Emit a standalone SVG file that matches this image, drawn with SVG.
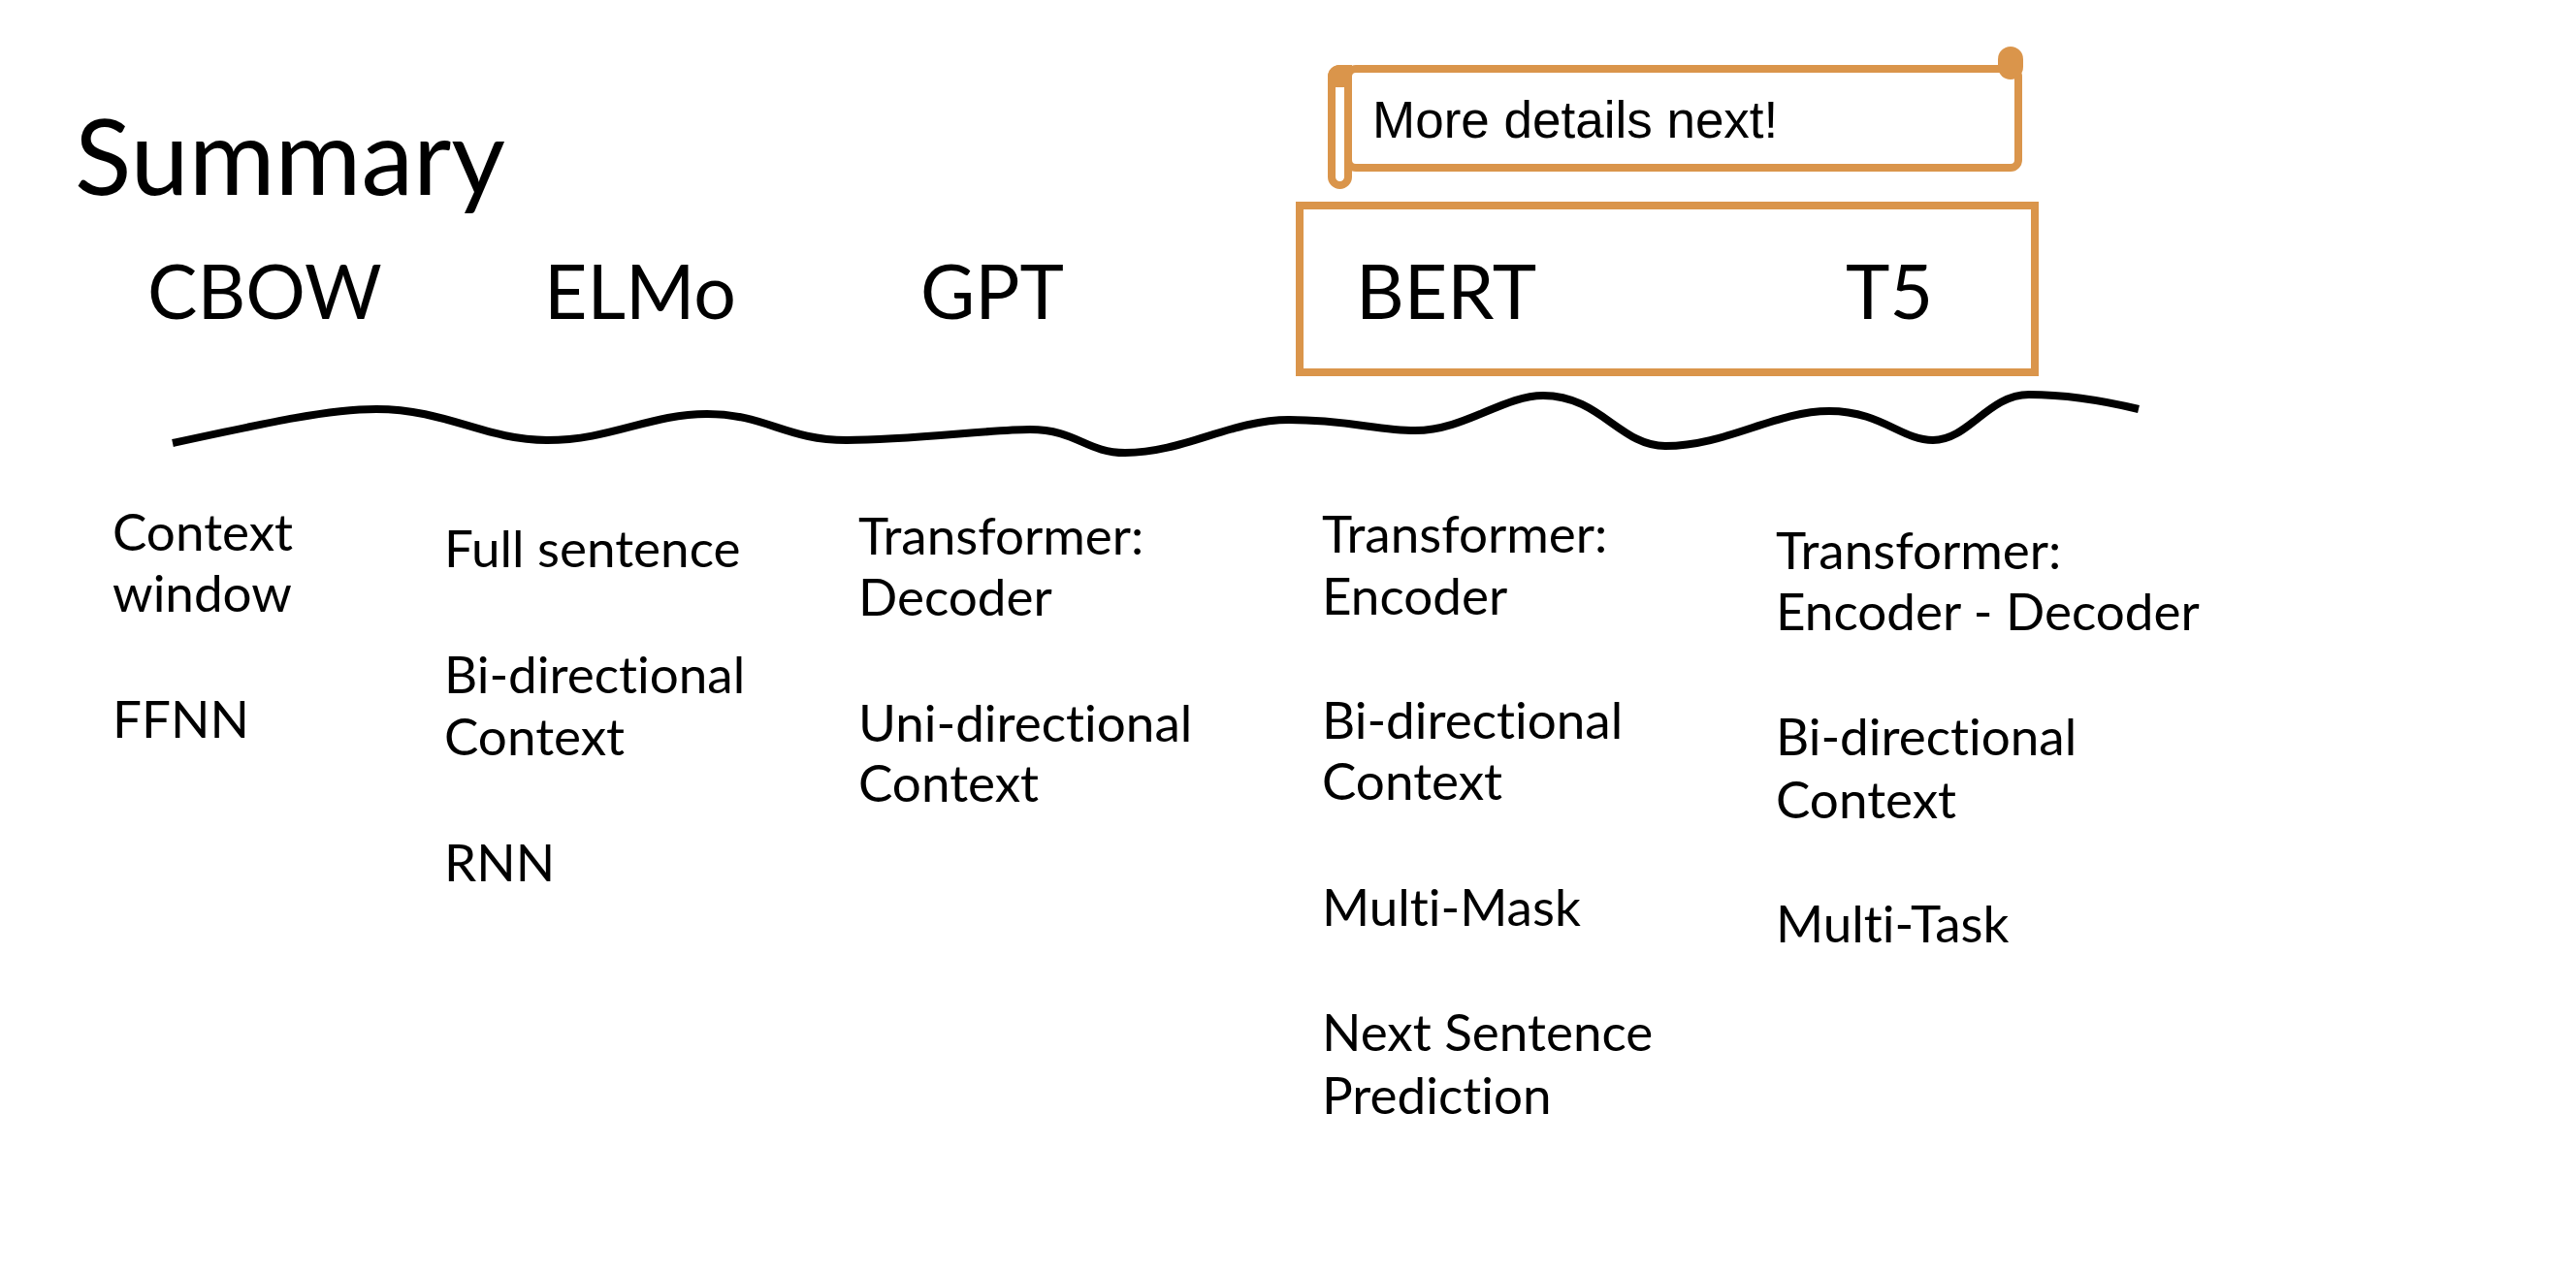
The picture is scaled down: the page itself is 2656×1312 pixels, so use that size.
<svg xmlns="http://www.w3.org/2000/svg" width="2656" height="1312" viewBox="0 0 2656 1312">
<style>
  text { font-family: Lato, "Liberation Sans", sans-serif; fill: #000; font-variant-ligatures: none; font-feature-settings: "liga" 0, "clig" 0, "dlig" 0; }
  .title { font-size: 108px; }
  .model { font-size: 77px; }
  .item { font-size: 53px; }
  .note { font-family: "Liberation Sans", Arial, sans-serif; font-size: 53px; }
  .orange { fill: none; stroke: #DA954B; stroke-width: 8; }
  .orangefill { fill: #DA954B; stroke: none; }
  .wave { fill: none; stroke: #000; stroke-width: 8; stroke-linecap: butt; }
</style>
<rect width="2656" height="1312" fill="#fff"/>

<g id="title">
  <text class="title" x="77" y="201">Summary</text>
</g>

<g id="callout">
  <rect x="1390" y="71" width="691" height="102" rx="8" fill="#fff" stroke="#DA954B" stroke-width="8"/>
  <rect x="1373" y="71" width="17" height="120" rx="8.5" fill="#fff" stroke="#DA954B" stroke-width="8"/>
  <path class="orangefill" d="M1369,79 a12,12 0 0 1 12,-12 L1394,67 L1394,90 L1369,90 Z"/>
  <rect class="orangefill" x="2060" y="48" width="26" height="34" rx="13"/>
  <text class="note" x="1415" y="142">More details next!</text>
</g>

<g id="bert-t5-box">
  <rect class="orange" x="1340" y="212" width="758" height="172"/>
</g>

<g id="cbow">
  <text class="model" x="152" y="329">CBOW</text>
  <text class="item" x="116" y="568">Context</text>
  <text class="item" x="116" y="631">window</text>
  <text class="item" x="116" y="761">FFNN</text>
</g>

<g id="elmo">
  <text class="model" x="561" y="329">ELMo</text>
  <text class="item" x="458" y="585">Full sentence</text>
  <text class="item" x="458" y="715">Bi-directional</text>
  <text class="item" x="458" y="779">Context</text>
  <text class="item" x="458" y="909">RNN</text>
</g>

<g id="gpt">
  <text class="model" x="949" y="329">GPT</text>
  <text class="item" x="885" y="572">Transformer:</text>
  <text class="item" x="885" y="635">Decoder</text>
  <text class="item" x="885" y="765">Uni-directional</text>
  <text class="item" x="885" y="827">Context</text>
</g>

<g id="bert">
  <text class="model" x="1398" y="329">BERT</text>
  <text class="item" x="1363" y="570">Transformer:</text>
  <text class="item" x="1363" y="634">Encoder</text>
  <text class="item" x="1363" y="762">Bi-directional</text>
  <text class="item" x="1363" y="825">Context</text>
  <text class="item" x="1363" y="955">Multi-Mask</text>
  <text class="item" x="1363" y="1084">Next Sentence</text>
  <text class="item" x="1363" y="1149">Prediction</text>
</g>

<g id="t5">
  <text class="model" x="1903" y="329">T5</text>
  <text class="item" x="1831" y="587">Transformer:</text>
  <text class="item" x="1831" y="650">Encoder - Decoder</text>
  <text class="item" x="1831" y="779">Bi-directional</text>
  <text class="item" x="1831" y="844">Context</text>
  <text class="item" x="1831" y="972">Multi-Task</text>
</g>

<g id="connectors">
  <path class="wave" d="M178,457 C280,435 340,422 388,422 C460,422 500,454 564,454 C630,454 670,427 729,427 C790,427 810,454 873,454 C940,454 1020,443 1062,443 C1110,443 1120,467 1160,467 C1220,467 1270,433 1329,433 C1390,433 1420,444 1459,444 C1510,444 1550,408 1591,408 C1650,408 1670,460 1717,460 C1780,460 1830,424 1886,424 C1940,424 1960,454 1993,454 C2030,454 2050,407 2092,407 C2140,407 2180,416 2205,422"/>
</g>
</svg>
